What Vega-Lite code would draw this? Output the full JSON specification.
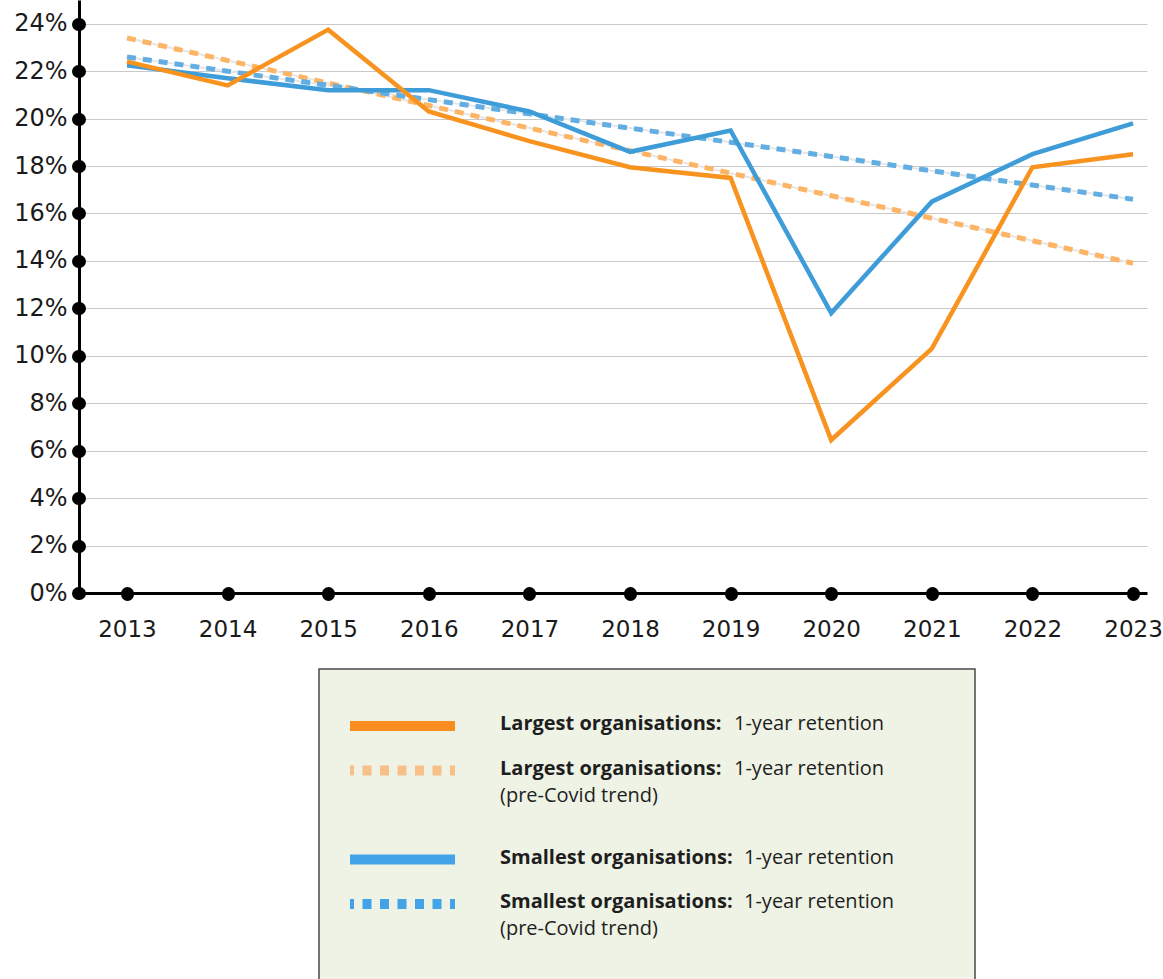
{
  "$schema": "https://vega.github.io/schema/vega-lite/v6.json",
  "padding": 0,
  "background": "white",
  "config": {
    "view": {"stroke": null},
    "font": "Open Sans",
    "axis": {
      "domainColor": "#000000",
      "domainWidth": 3,
      "tickColor": "#000000",
      "tickWidth": 13,
      "tickSize": 1,
      "tickCap": "round",
      "labelFont": "DejaVu Sans",
      "labelFontSize": 23,
      "labelColor": "#1a1a1a",
      "title": null
    }
  },
  "resolve": {"scale": {"color": "independent", "x": "independent", "y": "independent"}},
  "datasets": {
    "series": [
      {"year": 2013, "series": "Largest organisations", "kind": "actual", "value": 22.4},
      {"year": 2014, "series": "Largest organisations", "kind": "actual", "value": 21.4},
      {"year": 2015, "series": "Largest organisations", "kind": "actual", "value": 23.75},
      {"year": 2016, "series": "Largest organisations", "kind": "actual", "value": 20.3},
      {"year": 2017, "series": "Largest organisations", "kind": "actual", "value": 19.05},
      {"year": 2018, "series": "Largest organisations", "kind": "actual", "value": 17.95},
      {"year": 2019, "series": "Largest organisations", "kind": "actual", "value": 17.5},
      {"year": 2020, "series": "Largest organisations", "kind": "actual", "value": 6.45},
      {"year": 2021, "series": "Largest organisations", "kind": "actual", "value": 10.3},
      {"year": 2022, "series": "Largest organisations", "kind": "actual", "value": 17.95},
      {"year": 2023, "series": "Largest organisations", "kind": "actual", "value": 18.5},
      {"year": 2013, "series": "Smallest organisations", "kind": "actual", "value": 22.25},
      {"year": 2014, "series": "Smallest organisations", "kind": "actual", "value": 21.7},
      {"year": 2015, "series": "Smallest organisations", "kind": "actual", "value": 21.2},
      {"year": 2016, "series": "Smallest organisations", "kind": "actual", "value": 21.2},
      {"year": 2017, "series": "Smallest organisations", "kind": "actual", "value": 20.3},
      {"year": 2018, "series": "Smallest organisations", "kind": "actual", "value": 18.6},
      {"year": 2019, "series": "Smallest organisations", "kind": "actual", "value": 19.5},
      {"year": 2020, "series": "Smallest organisations", "kind": "actual", "value": 11.8},
      {"year": 2021, "series": "Smallest organisations", "kind": "actual", "value": 16.5},
      {"year": 2022, "series": "Smallest organisations", "kind": "actual", "value": 18.5},
      {"year": 2023, "series": "Smallest organisations", "kind": "actual", "value": 19.8},
      {"year": 2013, "series": "Largest organisations", "kind": "trend", "value": 23.4},
      {"year": 2014, "series": "Largest organisations", "kind": "trend", "value": 22.45},
      {"year": 2015, "series": "Largest organisations", "kind": "trend", "value": 21.5},
      {"year": 2016, "series": "Largest organisations", "kind": "trend", "value": 20.55},
      {"year": 2017, "series": "Largest organisations", "kind": "trend", "value": 19.6},
      {"year": 2018, "series": "Largest organisations", "kind": "trend", "value": 18.65},
      {"year": 2019, "series": "Largest organisations", "kind": "trend", "value": 17.7},
      {"year": 2020, "series": "Largest organisations", "kind": "trend", "value": 16.75},
      {"year": 2021, "series": "Largest organisations", "kind": "trend", "value": 15.8},
      {"year": 2022, "series": "Largest organisations", "kind": "trend", "value": 14.85},
      {"year": 2023, "series": "Largest organisations", "kind": "trend", "value": 13.9},
      {"year": 2013, "series": "Smallest organisations", "kind": "trend", "value": 22.6},
      {"year": 2014, "series": "Smallest organisations", "kind": "trend", "value": 22.0},
      {"year": 2015, "series": "Smallest organisations", "kind": "trend", "value": 21.4},
      {"year": 2016, "series": "Smallest organisations", "kind": "trend", "value": 20.8},
      {"year": 2017, "series": "Smallest organisations", "kind": "trend", "value": 20.2},
      {"year": 2018, "series": "Smallest organisations", "kind": "trend", "value": 19.6},
      {"year": 2019, "series": "Smallest organisations", "kind": "trend", "value": 19.0},
      {"year": 2020, "series": "Smallest organisations", "kind": "trend", "value": 18.4},
      {"year": 2021, "series": "Smallest organisations", "kind": "trend", "value": 17.8},
      {"year": 2022, "series": "Smallest organisations", "kind": "trend", "value": 17.2},
      {"year": 2023, "series": "Smallest organisations", "kind": "trend", "value": 16.6}
    ],
    "legendLines": [
      {"item": "L", "style": "solid", "end": "s0"},
      {"item": "L", "style": "solid", "end": "s1"},
      {"item": "Lt", "style": "dashed", "end": "s0"},
      {"item": "Lt", "style": "dashed", "end": "s1"},
      {"item": "S", "style": "solid", "end": "s0"},
      {"item": "S", "style": "solid", "end": "s1"},
      {"item": "St", "style": "dashed", "end": "s0"},
      {"item": "St", "style": "dashed", "end": "s1"}
    ],
    "legendText": [
      {"item": "L", "group": "Largest", "bold": "Largest organisations:", "rest": "1-year retention", "note": ""},
      {"item": "Lt", "group": "Largest", "bold": "Largest organisations:", "rest": "1-year retention", "note": "(pre-Covid trend)"},
      {"item": "S", "group": "Smallest", "bold": "Smallest organisations:", "rest": "1-year retention", "note": ""},
      {"item": "St", "group": "Smallest", "bold": "Smallest organisations:", "rest": "1-year retention", "note": "(pre-Covid trend)"}
    ]
  },
  "spacing": 15,
  "vconcat": [
    {
      "width": 1068,
      "height": 593,
      "data": {"name": "series"},
      "encoding": {
        "x": {
          "field": "year",
          "type": "quantitative",
          "scale": {"domain": [2012.523, 2023.139], "nice": false, "zero": false},
          "axis": {
            "values": [2013, 2014, 2015, 2016, 2017, 2018, 2019, 2020, 2021, 2022, 2023],
            "format": "d",
            "grid": false,
            "labelPadding": 24,
            "labelOverlap": false,
            "labelFlush": false,
            "minExtent": 60,
            "maxExtent": 60
          }
        },
        "y": {
          "field": "value",
          "type": "quantitative",
          "scale": {"domain": [0, 25], "nice": false},
          "axis": {
            "values": [0, 2, 4, 6, 8, 10, 12, 14, 16, 18, 20, 22, 24],
            "labelExpr": "datum.value + '%'",
            "labelFontSize": 24,
            "grid": true,
            "gridColor": "#c9c9c9",
            "gridWidth": 1.2,
            "labelPadding": 11,
            "minExtent": 79,
            "maxExtent": 79
          }
        }
      },
      "layer": [
        {
          "transform": [{"filter": "datum.kind === 'trend'"}],
          "mark": {"type": "line", "stroke": "#e6e6e6", "strokeWidth": 2},
          "encoding": {"detail": {"field": "series"}}
        },
        {
          "transform": [{"filter": "datum.kind === 'trend'"}],
          "mark": {"type": "line", "strokeWidth": 5, "strokeDash": [9, 7], "strokeCap": "butt"},
          "encoding": {
            "color": {
              "field": "series",
              "type": "nominal",
              "scale": {"domain": ["Largest organisations", "Smallest organisations"], "range": ["#FDB565", "#62AEE2"]},
              "legend": null
            }
          }
        },
        {
          "transform": [{"filter": "datum.kind === 'actual' && datum.series === 'Smallest organisations'"}],
          "mark": {"type": "line", "strokeWidth": 4.5, "color": "#3E9CD8"},
          "encoding": {}
        },
        {
          "transform": [{"filter": "datum.kind === 'actual' && datum.series === 'Largest organisations'"}],
          "mark": {"type": "line", "strokeWidth": 4.5, "color": "#F7931E"},
          "encoding": {}
        }
      ]
    },
    {
      "spacing": 0,
      "hconcat": [
        {
          "width": 239,
          "height": 311,
          "data": {"values": [{"a": 0}]},
          "mark": {"type": "point", "opacity": 0},
          "encoding": {}
        },
        {
          "width": 656,
          "height": 311,
          "view": {"fill": "#EEF3E5", "stroke": "#4a4a4a", "strokeWidth": 1.5},
          "encoding": {
            "y": {
              "field": "item",
              "type": "ordinal",
              "scale": {"type": "point", "domain": ["L", "Lt", "gap", "S", "St"], "range": [57, 235], "padding": 0},
              "axis": null
            }
          },
          "layer": [
            {
              "data": {"name": "legendLines"},
              "transform": [{"filter": "datum.style === 'solid'"}],
              "mark": {"type": "line", "strokeWidth": 10, "strokeCap": "butt"},
              "encoding": {
                "x": {
                  "field": "end",
                  "type": "ordinal",
                  "scale": {"type": "point", "domain": ["s0", "s1"], "range": [31, 136], "padding": 0},
                  "axis": null
                },
                "color": {
                  "field": "item",
                  "type": "nominal",
                  "scale": {"domain": ["L", "Lt", "S", "St"], "range": ["#F98C1F", "#F8C089", "#42A3E8", "#42A3E8"]},
                  "legend": null
                }
              }
            },
            {
              "data": {"name": "legendLines"},
              "transform": [{"filter": "datum.style === 'dashed'"}],
              "mark": {"type": "line", "strokeWidth": 10, "strokeCap": "butt", "strokeDash": [9, 8.5], "strokeDashOffset": 5},
              "encoding": {
                "x": {"field": "end", "type": "ordinal"},
                "color": {"field": "item", "type": "nominal", "legend": null}
              }
            },
            {
              "data": {"name": "legendText"},
              "mark": {"type": "text", "align": "left", "baseline": "middle", "dx": 45, "dy": -2, "font": "Open Sans", "fontSize": 20, "fontWeight": "bold", "color": "#1e1e1e"},
              "encoding": {
                "x": {"datum": "s1", "type": "ordinal"},
                "text": {"field": "bold"}
              }
            },
            {
              "data": {"name": "legendText"},
              "transform": [{"filter": "datum.group === 'Largest'"}],
              "mark": {"type": "text", "align": "left", "baseline": "middle", "dx": 279, "dy": -2, "font": "Open Sans", "fontSize": 20, "color": "#1e1e1e"},
              "encoding": {
                "x": {"datum": "s1", "type": "ordinal"},
                "text": {"field": "rest"}
              }
            },
            {
              "data": {"name": "legendText"},
              "transform": [{"filter": "datum.group === 'Smallest'"}],
              "mark": {"type": "text", "align": "left", "baseline": "middle", "dx": 289, "dy": -2, "font": "Open Sans", "fontSize": 20, "color": "#1e1e1e"},
              "encoding": {
                "x": {"datum": "s1", "type": "ordinal"},
                "text": {"field": "rest"}
              }
            },
            {
              "data": {"name": "legendText"},
              "transform": [{"filter": "datum.note !== ''"}],
              "mark": {"type": "text", "align": "left", "baseline": "middle", "dx": 45, "dy": 25, "font": "Open Sans", "fontSize": 20, "color": "#1e1e1e"},
              "encoding": {
                "x": {"datum": "s1", "type": "ordinal"},
                "text": {"field": "note"}
              }
            }
          ]
        }
      ]
    }
  ]
}
